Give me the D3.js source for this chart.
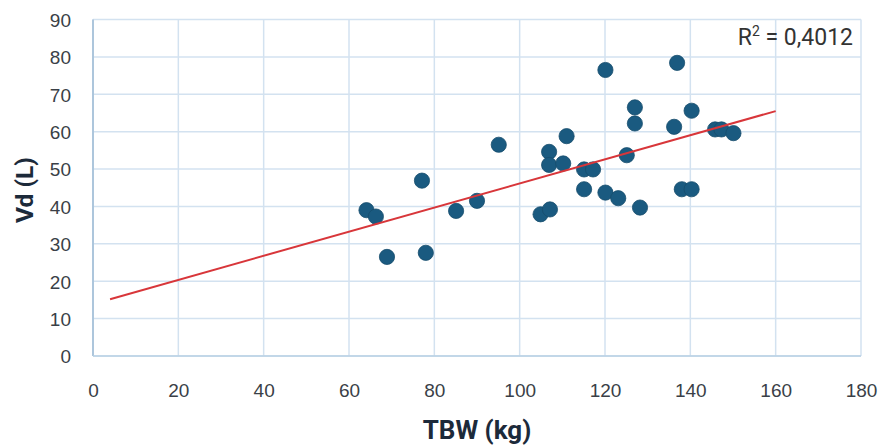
<!DOCTYPE html>
<html lang="pl">
<head>
  <meta charset="utf-8"/>
  <title>Vd vs TBW</title>
  <script src="https://cdn.jsdelivr.net/npm/d3@7/dist/d3.min.js"></script>
  <style>
    html,body { margin:0; padding:0; background:#fff; overflow:hidden; }
    svg { display:block; }
    .grid line { stroke:#d3e2f0; stroke-width:1.5; }
    .tick text { font-family:"Liberation Sans", Arial, sans-serif; font-size:19px; fill:#3a3f47; }
    .title { font-family:Roboto, sans-serif; font-weight:700; font-size:26px; fill:#1c2a3a; }
  </style>
</head>
<body>
<svg width="883" height="448"></svg>
<script>
// dane
const tbw = [64.1, 66.3, 68.9, 77.1, 78.0, 85.1, 90.0, 95.1, 104.9, 107.1, 106.9, 106.9,
             111.0, 110.2, 115.1, 117.2, 115.1, 120.1, 120.1, 123.1, 125.1, 128.2, 127.0,
             127.0, 136.2, 136.9, 138.0, 140.3, 140.3, 145.8, 147.3, 150.1];
const vd  = [39.0, 37.3, 26.5, 46.9, 27.6, 38.8, 41.5, 56.5, 37.9, 39.2, 54.6, 51.1,
             58.8, 51.5, 49.9, 49.9, 44.6, 76.5, 43.7, 42.2, 53.7, 39.7, 66.5,
             62.2, 61.3, 78.4, 44.6, 44.6, 65.6, 60.6, 60.6, 59.6];
// linia trendu (końce)
const trendX = [4, 160];
const trendY = [15.2, 65.5];
const xTicks = [0, 20, 40, 60, 80, 100, 120, 140, 160, 180];
const yTicks = [0, 10, 20, 30, 40, 50, 60, 70, 80, 90];
const r2Label = "0,4012";

const svg = d3.select("svg");
const m = {l:93, r:22, t:19.5, b:92};
const W = 883, H = 448;

const x = d3.scaleLinear().domain([0,180]).range([m.l, W-m.r]);
const y = d3.scaleLinear().domain([0,90]).range([H-m.b, m.t]);

// siatka
const g = svg.append("g").attr("class","grid");
g.selectAll("line.v").data(xTicks).join("line")
  .attr("x1", d=>x(d)).attr("x2", d=>x(d))
  .attr("y1", y(0)).attr("y2", y(90));
g.selectAll("line.h").data(yTicks).join("line")
  .attr("x1", x(0)).attr("x2", x(180))
  .attr("y1", d=>y(d)).attr("y2", d=>y(d));
// oś lewa i dolna troche ciemniejsze
svg.append("line").attr("x1",x(0)).attr("x2",x(0)).attr("y1",y(0)).attr("y2",y(90))
  .attr("stroke","#a8c2da").attr("stroke-width",1.8);
svg.append("line").attr("x1",x(0)).attr("x2",x(180)).attr("y1",y(0)).attr("y2",y(0))
  .attr("stroke","#b9d0e4").attr("stroke-width",1.6);

// osie (tylko etykiety)
const xAxis = svg.append("g").attr("transform",`translate(0,${y(0)})`)
  .call(d3.axisBottom(x).tickValues(xTicks).tickSize(0).tickPadding(28));
xAxis.select(".domain").remove();
const yAxis = svg.append("g").attr("transform",`translate(${x(0)},0)`)
  .call(d3.axisLeft(y).tickValues(yTicks).tickSize(0).tickPadding(22));
yAxis.select(".domain").remove();
yAxis.selectAll(".tick text").attr("dy","0.36em");

// punkty
const pts = tbw.map((v,i)=>({x:v, y:vd[i]}));
svg.append("g").selectAll("circle").data(pts).join("circle")
  .attr("cx", d=>x(d.x)).attr("cy", d=>y(d.y)).attr("r", 7.6)
  .attr("fill","#1a5a80").attr("stroke","#164c6c").attr("stroke-width",0.8);

// trend
svg.append("line")
  .attr("x1", x(trendX[0])).attr("y1", y(trendY[0]))
  .attr("x2", x(trendX[1])).attr("y2", y(trendY[1]))
  .attr("stroke","#d8363a").attr("stroke-width",2);

// R^2
const rt = svg.append("text").attr("x", 853).attr("y", 45)
  .attr("text-anchor","end")
  .style("font-family","Roboto, sans-serif").style("font-size","23px").style("fill","#333");
rt.append("tspan").text("R");
rt.append("tspan").attr("dy",-9).style("font-size","14px").text("2");
rt.append("tspan").attr("dy",9).text(" = " + r2Label);

// tytuły osi
svg.append("text").attr("class","title").attr("x", 477).attr("y", 439)
  .attr("text-anchor","middle").text("TBW (kg)");
svg.append("text").attr("class","title")
  .attr("transform","translate(33,190) rotate(-90)")
  .attr("text-anchor","middle")
  .attr("textLength", 66).attr("lengthAdjust","spacingAndGlyphs")
  .style("font-size","24px").text("Vd (L)");
</script>
</body>
</html>
